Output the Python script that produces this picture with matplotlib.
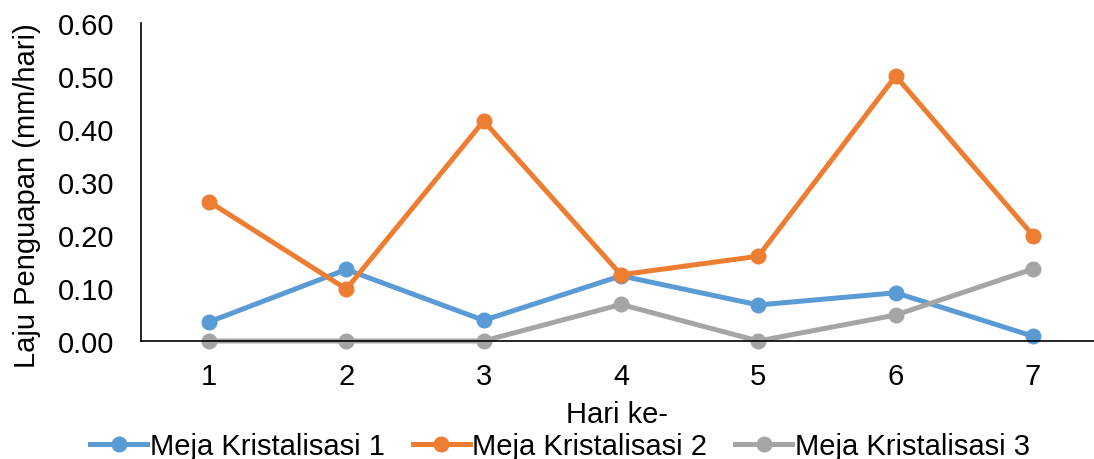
import matplotlib
matplotlib.use("Agg")
import matplotlib.pyplot as plt

# Laju penguapan harian tiap meja kristalisasi
hari = [1, 2, 3, 4, 5, 6, 7]
meja_1 = [0.036, 0.135, 0.039, 0.123, 0.068, 0.091, 0.009]
meja_2 = [0.263, 0.098, 0.415, 0.125, 0.160, 0.500, 0.199]
meja_3 = [0.000, 0.000, 0.000, 0.069, 0.000, 0.049, 0.136]
y_ticks = [0.0, 0.1, 0.2, 0.3, 0.4, 0.5, 0.6]

plt.rcParams['font.family'] = ['Liberation Sans', 'DejaVu Sans']

fig = plt.figure(figsize=(10.94, 4.6), dpi=100)
ax = fig.add_axes([0.1289, 0.2565, 0.8711, 0.6913])

series = [
    (meja_1, '#5B9BD5', 'Meja Kristalisasi 1'),
    (meja_2, '#ED7D31', 'Meja Kristalisasi 2'),
    (meja_3, '#A5A5A5', 'Meja Kristalisasi 3'),
]
for vals, col, lab in series:
    ax.plot(hari, vals, color=col, lw=3.6, marker='o', ms=10.5,
            label=lab, solid_joinstyle='round', clip_on=False)

ax.set_xlim(0.505, 7.444)
ax.set_ylim(0, 0.6)
ax.set_xticks(hari)
ax.set_yticks(y_ticks)
ax.set_yticklabels([f"{v:.2f}" for v in y_ticks])
ax.tick_params(axis='both', length=0, labelsize=21)
ax.tick_params(axis='x', pad=15)
ax.tick_params(axis='y', pad=19)

for s in ['top', 'right']:
    ax.spines[s].set_visible(False)
ax.spines['left'].set_linewidth(1.2)
ax.spines['bottom'].set_linewidth(1.2)

# axis titles placed in figure coordinates
fig.text(617 / 1094, 1 - 415 / 460, 'Hari ke-', fontsize=21,
         ha='center', va='center')
fig.text(27 / 1094, 1 - 196 / 460, 'Laju Penguapan (mm/hari)', fontsize=21,
         rotation=90, ha='center', va='center')

fig.legend(loc='center', bbox_to_anchor=(0.512, 1 - 447 / 460), ncol=3,
           frameon=False, fontsize=21, handlelength=1.95, handletextpad=0.1,
           columnspacing=0.95, borderpad=0, borderaxespad=0)

fig.savefig('out.png', dpi=100)
